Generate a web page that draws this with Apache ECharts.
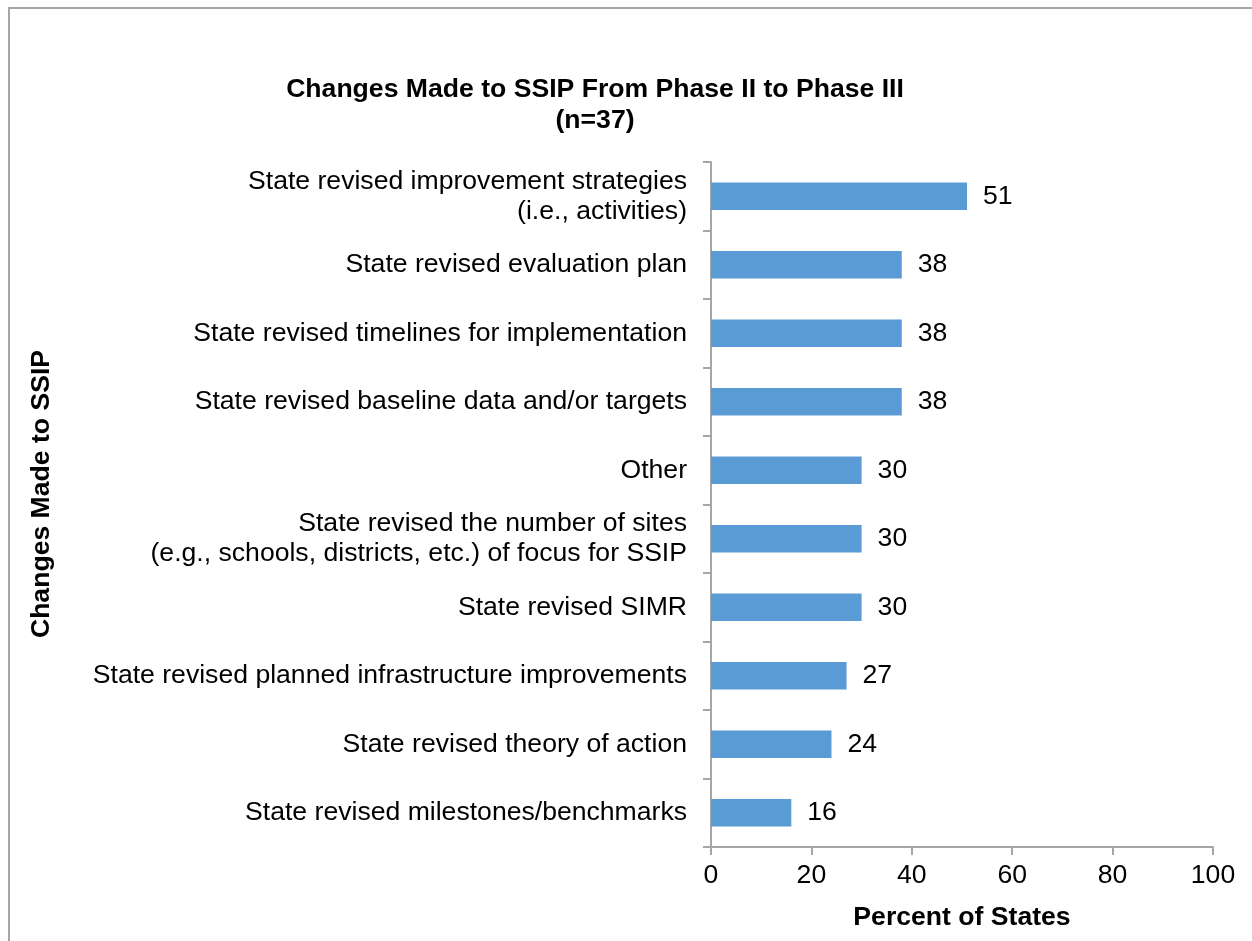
<!DOCTYPE html>
<html><head><meta charset="utf-8">
<script src="https://cdn.jsdelivr.net/npm/echarts@6/dist/echarts.min.js"></script>
<style>
html,body{margin:0;padding:0;background:#fff;}
#frame{position:absolute;left:8px;top:7px;width:1244px;height:934px;border-left:2px solid #a6a6a6;border-top:2px solid #a6a6a6;box-sizing:border-box;}
#c{position:absolute;left:0;top:0;width:1252px;height:941px;}
</style></head>
<body>
<div id="frame"></div>
<div id="c"></div>
<script>
const categories = [
  "State revised improvement strategies\n(i.e., activities)",
  "State revised evaluation plan",
  "State revised timelines for implementation",
  "State revised baseline data and/or targets",
  "Other",
  "State revised the number of sites\n(e.g., schools, districts, etc.) of focus for SSIP",
  "State revised SIMR",
  "State revised planned infrastructure improvements",
  "State revised theory of action",
  "State revised milestones/benchmarks"
];
const values = [51, 38, 38, 38, 30, 30, 30, 27, 24, 16];
const xTicks = [0, 20, 40, 60, 80, 100];

const chart = echarts.init(document.getElementById('c'), null, {renderer:'canvas'});
const font = 'Liberation Sans, Arial, sans-serif';
const fs = 26.6;
chart.setOption({
  backgroundColor: 'transparent',
  animation: false,
  title: {
    text: 'Changes Made to SSIP From Phase II to Phase III\n(n=37)',
    left: 590, top: 69, textAlign: 'center',
    textStyle: {fontFamily: font, fontSize: fs, fontWeight: 'bold', color: '#000', lineHeight: 31}
  },
  graphic: [{
    type: 'text', x: 42, y: 494, rotation: Math.PI / 2,
    style: {text: 'Changes Made to SSIP', fontFamily: font, fontSize: fs, fontWeight: 'bold',
      fill: '#000', align: 'center', verticalAlign: 'middle'}
  }],
  grid: {left: 711, right: 39, top: 162, bottom: 94, containLabel: false},
  xAxis: {
    type: 'value', min: 0, max: 100, interval: 20,
    name: 'Percent of States', nameLocation: 'middle', nameGap: 57,
    nameTextStyle: {fontFamily: font, fontSize: fs, fontWeight: 'bold', color: '#000'},
    axisLine: {show: true, lineStyle: {color: '#a6a6a6', width: 2}},
    axisTick: {show: true, length: 8, lineStyle: {color: '#a6a6a6', width: 2}},
    axisLabel: {fontFamily: font, fontSize: fs, color: '#000', margin: 15,
      formatter: v => xTicks.includes(v) ? String(v) : ''},
    splitLine: {show: false}
  },
  yAxis: {
    type: 'category', data: categories, inverse: true,
    axisLine: {show: true, lineStyle: {color: '#a6a6a6', width: 2}},
    axisTick: {show: true, length: 8, lineStyle: {color: '#a6a6a6', width: 2}},
    axisLabel: {fontFamily: font, fontSize: fs, color: '#000', margin: 24, align: 'right', lineHeight: 30}
  },
  series: [{
    type: 'bar', data: values, barWidth: '40%',
    itemStyle: {color: '#5b9bd5'},
    label: {show: true, position: 'right', distance: 16, fontFamily: font, fontSize: fs, color: '#000'}
  }]
});
</script>
</body></html>
